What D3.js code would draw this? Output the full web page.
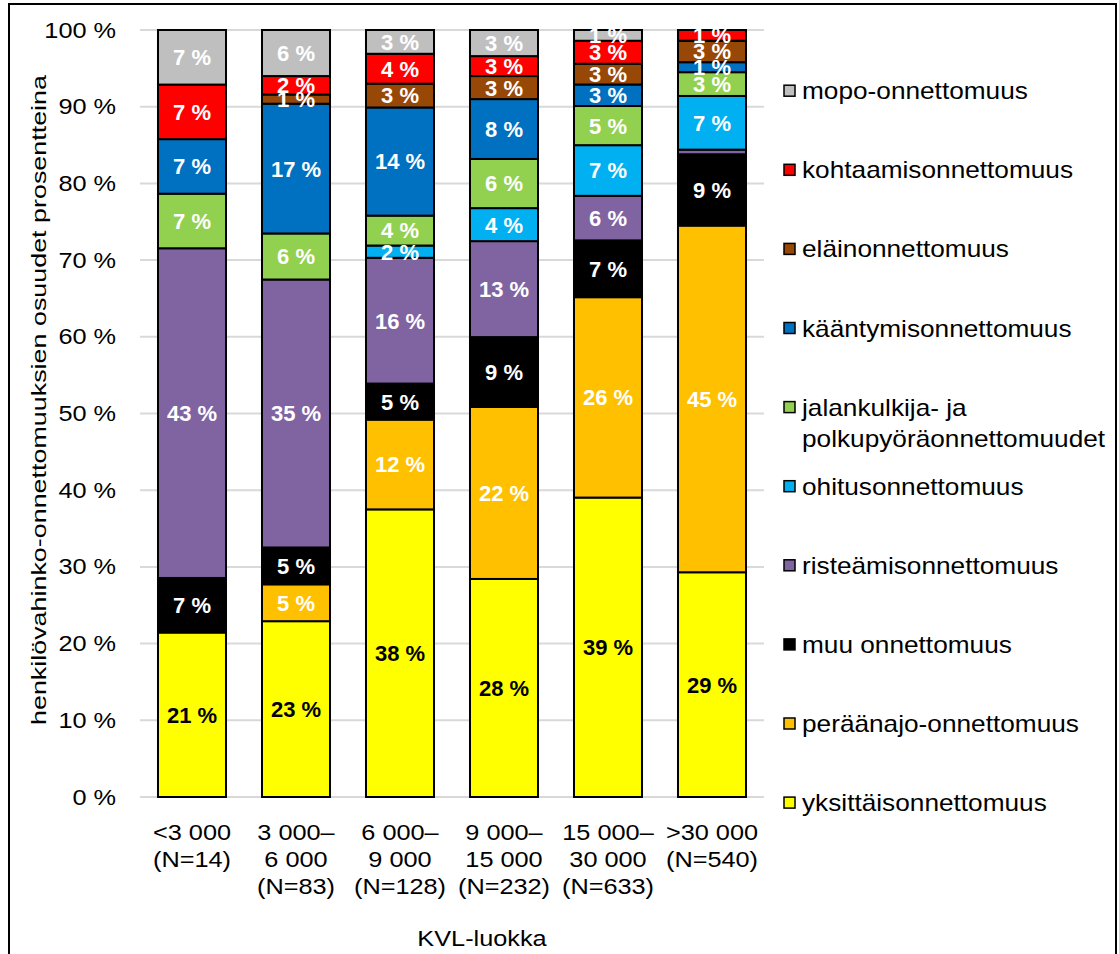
<!DOCTYPE html>
<html>
<head>
<meta charset="utf-8">
<script src="https://cdn.jsdelivr.net/npm/d3@7"></script>
<style>
  html, body { margin: 0; padding: 0; background: #fff; }
  svg { display: block; }
  text { font-family: "Liberation Sans", Arial, sans-serif; }
</style>
</head>
<body>
<svg id="chart" width="1119" height="954"></svg>
<script>
// Traffic-volume (KVL) classes, one bar each
const categories = [
  ["<3 000", "(N=14)"],
  ["3 000–", "6 000", "(N=83)"],
  ["6 000–", "9 000", "(N=128)"],
  ["9 000–", "15 000", "(N=232)"],
  ["15 000–", "30 000", "(N=633)"],
  [">30 000", "(N=540)"]
];

// Share of injury accidents (%) per accident type, bottom of the stack first
const yksittais   = [21.4, 22.9, 37.5, 28.4, 39.0, 29.3];
const peraanajo   = [0.0,  4.8, 11.7, 22.4, 26.1, 45.2];
const muu         = [7.1,  4.8,  4.7,  9.1,  7.4,  9.3];
const risteamis   = [42.9, 34.9, 16.4, 12.5,  5.8,  0.6];
const ohitus      = [0.0,  0.0,  1.6,  4.3,  6.6,  7.0];
const jalankulkija = [7.1, 6.0,  3.9,  6.4,  5.1,  3.1];
const kaantymis   = [7.1, 16.9, 14.1,  7.8,  2.8,  1.3];
const elain       = [0.0,  1.2,  3.1,  3.0,  2.7,  2.8];
const kohtaamis   = [7.1,  2.4,  3.9,  2.6,  3.0,  1.4];
const mopo        = [7.1,  6.0,  3.1,  3.4,  1.4,  0.0];

const seriesNames = [
  "yksittäisonnettomuus", "peräänajo-onnettomuus", "muu onnettomuus",
  "risteämisonnettomuus", "ohitusonnettomuus",
  "jalankulkija- ja\npolkupyöräonnettomuudet",
  "kääntymisonnettomuus", "eläinonnettomuus", "kohtaamisonnettomuus",
  "mopo-onnettomuus"
];
const seriesValues = [yksittais, peraanajo, muu, risteamis, ohitus,
  jalankulkija, kaantymis, elain, kohtaamis, mopo];
const seriesColors = ["#ffff00", "#ffc000", "#000000", "#8064a2", "#00b0f0",
  "#92d050", "#0070c0", "#974706", "#ff0000", "#bfbfbf"];

const yTicks = [0, 0.1, 0.2, 0.3, 0.4, 0.5, 0.6, 0.7, 0.8, 0.9, 1.0];
const yTitle = "henkilövahinko-onnettomuuksien osuudet prosentteina";
const xTitle = "KVL-luokka";

// ---------------------------------------------------------------
const svg = d3.select("#chart");
const SX = 1.15; // horizontal widening of the regular text

// outer frame
svg.append("rect")
  .attr("x", 9).attr("y", 4).attr("width", 1107).attr("height", 970)
  .attr("fill", "none").attr("stroke", "#000").attr("stroke-width", 2);

const x = d3.scaleBand()
  .domain(d3.range(categories.length))
  .range([140, 764])
  .paddingInner(0.346)
  .paddingOuter(0.173);

const y = d3.scaleLinear().domain([0, 1]).range([797, 30]);

// gridlines
svg.append("g")
  .selectAll("line")
  .data(yTicks)
  .join("line")
  .attr("x1", 140).attr("x2", 764)
  .attr("y1", d => y(d)).attr("y2", d => y(d))
  .attr("stroke", "#d9d9d9").attr("stroke-width", 2);

// y axis labels
const yAxis = svg.append("g")
  .attr("transform", "translate(140,0)")
  .call(d3.axisLeft(y).tickValues(yTicks).tickSize(0).tickPadding(24)
    .tickFormat(d => Math.round(d * 100) + " %"));
yAxis.select(".domain").remove();
yAxis.selectAll("text")
  .attr("font-size", 22)
  .attr("font-family", "Liberation Sans, Arial, sans-serif")
  .attr("fill", "#000")
  .attr("x", -24 / SX)
  .attr("transform", `scale(${SX},1)`);

// stacked data: rows per category, normalised to 100 %
const rows = categories.map((c, i) => {
  const r = { i };
  seriesValues.forEach((s, k) => { r[k] = s[i]; });
  return r;
});
const stack = d3.stack()
  .keys(d3.range(seriesValues.length))
  .offset(d3.stackOffsetExpand);
const stacked = stack(rows);

const layers = svg.append("g")
  .selectAll("g")
  .data(stacked)
  .join("g")
  .attr("fill", (d, k) => seriesColors[k]);

layers.selectAll("rect")
  .data(d => d.filter(p => p[1] - p[0] > 0))
  .join("rect")
  .attr("x", p => x(p.data.i))
  .attr("width", x.bandwidth())
  .attr("y", p => y(p[1]))
  .attr("height", p => y(p[0]) - y(p[1]))
  .attr("stroke", "#000")
  .attr("stroke-width", 2);

// value labels
const labels = svg.append("g");
stacked.forEach((layer, k) => {
  layer.forEach(p => {
    const v = seriesValues[k][p.data.i];
    if (v < 1) return;
    labels.append("text")
      .attr("x", x(p.data.i) + x.bandwidth() / 2)
      .attr("y", y((p[0] + p[1]) / 2))
      .attr("dy", "0.36em")
      .attr("text-anchor", "middle")
      .attr("font-size", 22)
      .attr("font-weight", "bold")
      .attr("fill", k === 0 ? "#000" : "#fff")
      .text(Math.round(v) + " %");
  });
});

// category axis with multi-line labels
const xAxis = svg.append("g")
  .attr("transform", "translate(0,797)")
  .call(d3.axisBottom(x).tickSize(0).tickPadding(0).tickFormat(() => ""));
xAxis.select(".domain").remove();
xAxis.selectAll(".tick text").each(function(d) {
  const t = d3.select(this)
    .attr("y", 0).attr("dy", null)
    .attr("font-size", 22)
    .attr("font-family", "Liberation Sans, Arial, sans-serif")
    .attr("fill", "#000")
    .attr("transform", `scale(${SX},1)`);
  categories[d].forEach((line, j) => {
    t.append("tspan").attr("x", 0).attr("y", 43 + j * 27).text(line);
  });
});

// axis titles
svg.append("text")
  .attr("transform", `translate(482,946) scale(${SX},1)`)
  .attr("text-anchor", "middle")
  .attr("font-size", 22)
  .text(xTitle);

svg.append("text")
  .attr("transform", "translate(46,400) rotate(-90)")
  .attr("text-anchor", "middle")
  .attr("font-size", 21)
  .attr("textLength", 650)
  .attr("lengthAdjust", "spacingAndGlyphs")
  .text(yTitle);

// legend, top entry is the top of the stack
const legendOrder = d3.range(seriesNames.length).reverse();
const legend = svg.append("g");
legendOrder.forEach((k, row) => {
  const cy = 90.7 + row * 79.1;
  legend.append("rect")
    .attr("x", 784).attr("y", cy - 5.5)
    .attr("width", 11).attr("height", 11)
    .attr("fill", seriesColors[k])
    .attr("stroke", "#000").attr("stroke-width", 1.5);
  const t = legend.append("text")
    .attr("transform", `translate(802,${cy + 8.5}) scale(1.14,1)`)
    .attr("font-size", 23);
  seriesNames[k].split("\n").forEach((line, j) => {
    t.append("tspan").attr("x", 0).attr("y", j * 31).text(line);
  });
});
</script>
</body>
</html>
